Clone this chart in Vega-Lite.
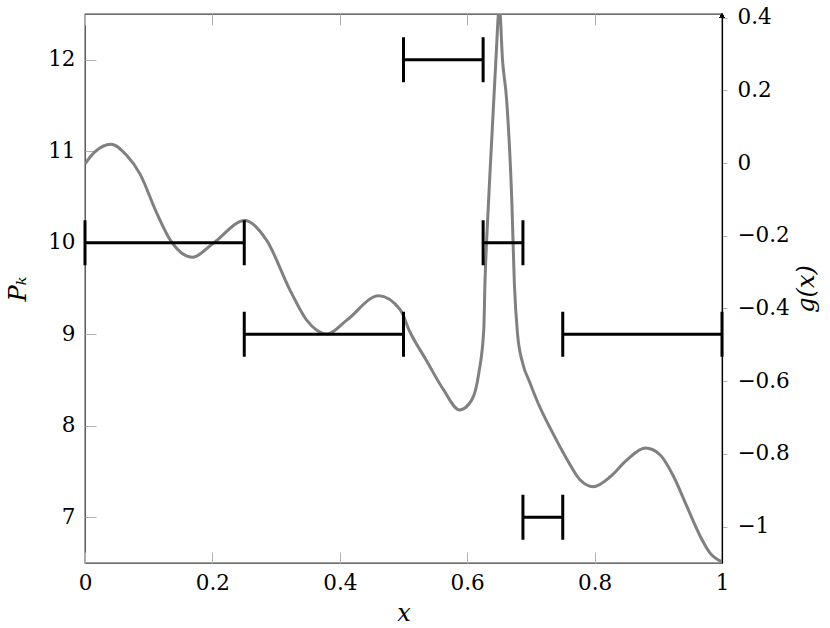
{
  "$schema": "https://vega.github.io/schema/vega-lite/v6.json",
  "width": 637,
  "height": 549,
  "autosize": {"type": "none"},
  "padding": {"left": 85, "top": 14, "right": 108, "bottom": 65},
  "config": {
    "font": "DejaVu Serif",
    "view": {"stroke": "#404040", "strokeWidth": 1.3},
    "axis": {
      "labelFont": "DejaVu Serif",
      "labelFontSize": 21.5,
      "labelColor": "#000000",
      "titleFont": "DejaVu Serif",
      "titleFontSize": 24,
      "titleFontStyle": "italic",
      "titleFontWeight": "normal",
      "titleColor": "#000000",
      "grid": false,
      "domain": false,
      "tickColor": "#b0b0b0",
      "tickWidth": 1,
      "labelFlush": false,
      "labelOverlap": false
    }
  },
  "resolve": {"scale": {"y": "independent"}, "axis": {"x": "independent"}},
  "layer": [
    {
      "data": {
        "values": [
          {"x": 0.0, "g": -0.002},
          {"x": 0.015, "g": 0.03},
          {"x": 0.041, "g": 0.052},
          {"x": 0.065, "g": 0.022},
          {"x": 0.086, "g": -0.029},
          {"x": 0.113, "g": -0.139},
          {"x": 0.134, "g": -0.212},
          {"x": 0.169, "g": -0.259},
          {"x": 0.201, "g": -0.221},
          {"x": 0.251, "g": -0.158},
          {"x": 0.285, "g": -0.212},
          {"x": 0.322, "g": -0.35},
          {"x": 0.348, "g": -0.432},
          {"x": 0.38, "g": -0.47},
          {"x": 0.411, "g": -0.432},
          {"x": 0.461, "g": -0.365},
          {"x": 0.495, "g": -0.404},
          {"x": 0.51, "g": -0.464},
          {"x": 0.536, "g": -0.543},
          {"x": 0.563, "g": -0.624},
          {"x": 0.588, "g": -0.679},
          {"x": 0.607, "g": -0.652},
          {"x": 0.618, "g": -0.58},
          {"x": 0.626, "g": -0.459},
          {"x": 0.628, "g": -0.322},
          {"x": 0.631, "g": -0.194},
          {"x": 0.639, "g": 0.081},
          {"x": 0.645, "g": 0.282},
          {"x": 0.6505, "g": 0.43},
          {"x": 0.6555, "g": 0.282},
          {"x": 0.662, "g": 0.172},
          {"x": 0.67, "g": -0.102},
          {"x": 0.674, "g": -0.33},
          {"x": 0.679, "g": -0.47},
          {"x": 0.687, "g": -0.55},
          {"x": 0.698, "g": -0.602},
          {"x": 0.71, "g": -0.655},
          {"x": 0.735, "g": -0.745},
          {"x": 0.757, "g": -0.816},
          {"x": 0.777, "g": -0.871},
          {"x": 0.798, "g": -0.89},
          {"x": 0.825, "g": -0.862},
          {"x": 0.851, "g": -0.816},
          {"x": 0.88, "g": -0.784},
          {"x": 0.903, "g": -0.803},
          {"x": 0.924, "g": -0.862},
          {"x": 0.945, "g": -0.945},
          {"x": 0.966, "g": -1.027},
          {"x": 0.981, "g": -1.072},
          {"x": 1.0, "g": -1.097}
        ]
      },
      "layer": [
        {
          "mark": {"type": "line", "color": "#808080", "strokeWidth": 3, "interpolate": "monotone", "clip": true},
          "encoding": {
            "x": {"field": "x", "type": "quantitative", "scale": {"domain": [0, 1], "nice": false, "zero": false},
              "axis": {"orient": "bottom", "values": [0, 0.2, 0.4, 0.6, 0.8, 1], "format": ".1~f", "tickSize": -11, "labelPadding": 20, "title": "x", "titlePadding": 8}},
            "y": {"field": "g", "type": "quantitative", "scale": {"domain": [-1.1, 0.41], "nice": false, "zero": false},
              "axis": {"orient": "right", "values": [-1, -0.8, -0.6, -0.4, -0.2, 0, 0.2, 0.4], "format": ".1~f", "domain": true, "domainColor": "#000000", "domainWidth": 1.2, "tickSize": 5, "labelPadding": 10, "title": "g(x)", "titleAngle": 270, "titlePadding": 29}}
          }
        },
        {
          "mark": {"type": "point", "shape": "triangle-up", "filled": true, "color": "#000000", "size": 22, "opacity": 1},
          "encoding": {
            "x": {"datum": 1},
            "y": {"datum": 0.405}
          }
        }
      ]
    },
    {
      "data": {
        "values": [
          {"start": 0, "end": 0.25, "P": 10},
          {"start": 0.25, "end": 0.5, "P": 9},
          {"start": 0.5, "end": 0.625, "P": 12},
          {"start": 0.625, "end": 0.6875, "P": 10},
          {"start": 0.6875, "end": 0.75, "P": 7},
          {"start": 0.75, "end": 1, "P": 9}
        ]
      },
      "encoding": {
        "y": {"field": "P", "type": "quantitative", "scale": {"domain": [6.5, 12.5], "nice": false, "zero": false},
          "axis": {"orient": "left", "values": [7, 8, 9, 10, 11, 12], "tickSize": -11, "labelPadding": 21, "title": "Pₖ", "titlePadding": 17}}
      },
      "layer": [
        {
          "mark": {"type": "rule", "color": "#000000", "strokeWidth": 3},
          "encoding": {
            "x": {"field": "start", "type": "quantitative", "scale": {"domain": [0, 1], "nice": false, "zero": false},
              "axis": {"orient": "top", "values": [0, 0.2, 0.4, 0.6, 0.8, 1], "labels": false, "tickSize": -11, "title": null}},
            "x2": {"field": "end"}
          }
        },
        {
          "mark": {"type": "tick", "orient": "vertical", "color": "#000000", "size": 45, "thickness": 3, "opacity": 1},
          "encoding": {
            "x": {"field": "start", "type": "quantitative",
              "axis": {"orient": "top", "values": [0, 0.2, 0.4, 0.6, 0.8, 1], "labels": false, "tickSize": -11, "title": null}}
          }
        },
        {
          "mark": {"type": "tick", "orient": "vertical", "color": "#000000", "size": 45, "thickness": 3, "opacity": 1},
          "encoding": {
            "x": {"field": "end", "type": "quantitative",
              "axis": {"orient": "top", "values": [0, 0.2, 0.4, 0.6, 0.8, 1], "labels": false, "tickSize": -11, "title": null}}
          }
        }
      ]
    }
  ]
}
